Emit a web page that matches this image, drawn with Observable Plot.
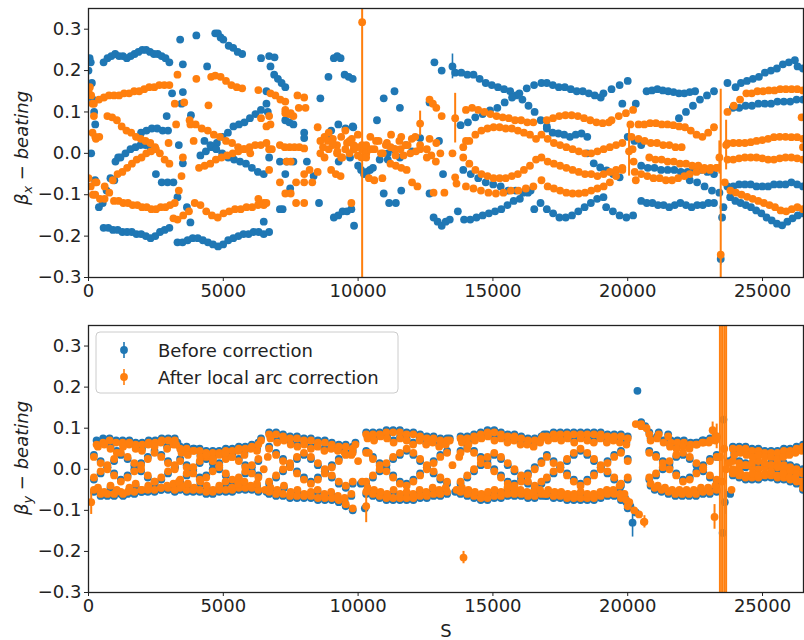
<!DOCTYPE html>
<html><head><meta charset="utf-8">
<script src="https://cdn.jsdelivr.net/npm/d3@7"></script>
<script src="https://cdn.jsdelivr.net/npm/@observablehq/plot@0.6"></script>
<style>body{margin:0;background:#fff;} svg{display:block;}</style>
</head><body><div id="chart"></div>
<script>
// ---- tick labels ----
const sTicks = [0, 5000, 10000, 15000, 20000, 25000];
const yTicks = [-0.3, -0.2, -0.1, 0, 0.1, 0.2, 0.3];
const seriesNames = ["Before correction", "After local arc correction"];

// ---- values (beta-beating in %), chains: [sStart, sEnd, values...] ----
const bxBeforeChains = [
  [0, 250, 20, 23, 22, 17, 13, 10, 7],
  [100, 1100, 0, -6.5, -13, -12, -9, -6, -6.5, -1],
  [560, 3000, 22, 23, 23.5, 24, 23.5, 23.5, 23, 23.5, 24, 24.5, 25, 25, 24.5, 24, 24, 23.5, 23, 22],
  [560, 3000, -18, -18, -18.5, -18.5, -19, -19, -19, -19.5, -19.5, -20, -20.5, -20, -19, -18.5, -18],
  [1000, 2300, -2, -1, 0, 1, 1.5, 2, 2, 1.5],
  [1950, 2950, 5, 5.5, 6, 6, 5.5, 5.5],
  [2500, 3150, -5, -7, -7, -7],
  [4700, 5000, 29, 29, 28, 27.5],
  [5200, 5700, 26, 25.5, 24.5, 24],
  [4150, 6600, -0.5, 0.5, 1.5, 2.5, 4, 5, 6.5, 7, 7.5, 8.5, 9.5, 10.5, 12],
  [4300, 6500, 3, 2, 1, 0, -1, -1.5, -2, -2.5, -3.5, -4.5, -5],
  [3300, 6500, -21.5, -21.5, -21, -20.5, -20.5, -21, -21.5, -22, -22.5, -22, -21, -20.5, -20, -19.5, -19.5, -19, -19, -19.5],
  [6750, 7300, 21, 19, 18, 17, 16],
  [7300, 7600, 8, 7.5, 7],
  [9100, 9350, 23, 23.5, 23],
  [9500, 9800, 19, 18.5, 18],
  [7100, 7600, -2, -2, -2],
  [9100, 9750, -15.5, -15, -14, -14, -13.5],
  [9000, 9800, 5.5, 7, 6, 6.5],
  [10000, 10550, -3, -4, -5, -4.5, -4, -3.5],
  [11150, 11400, -12, -12],
  [10800, 11100, -1.5, -1.5],
  [11100, 12000, 0, 1, -1, 2, 0.5],
  [12800, 13400, -15.5, -16.5, -17.5, -16.5, -16],
  [13600, 17000, 19.5, 19.5, 19, 19, 18, 17, 16.5, 16, 15.5, 15, 14, 13, 11.5, 10, 8, 6.5],
  [13800, 16800, 6.8, 7.5, 8.7, 9.5, 10.4, 11, 12.3, 13.5, 14.5, 15.7, 16.5, 17],
  [17000, 19000, 17, 16.5, 16, 16, 15.5, 15, 15, 14.5, 14, 13.5],
  [19100, 20000, 14.5, 15.5, 16.5, 17.5],
  [17000, 18500, 6, 5, 4.8, 4.5, 4, 4.5, 4.8, 4],
  [18500, 19700, 0, -2.4, -3.4, -4.1, -5, -5.8],
  [13700, 16000, -14, -16, -16, -15.5, -15, -14.5, -14, -13.5, -12.5, -11.5, -11],
  [16300, 19100, -9.5, -13.5, -12, -13.5, -14.5, -15.5, -15.5, -15, -14, -13, -12, -11, -10.6],
  [19200, 20200, -13, -14, -15, -15.5, -15],
  [20500, 23200, -11.5, -12, -12, -12.5, -12.5, -13, -12.5, -12, -12.5, -13, -12.5, -12.5, -12, -12],
  [13900, 16400, -4, -5, -6, -7, -7.5, -8, -9, -9, -9.5, -9],
  [20000, 20500, 4, 3, 2],
  [20500, 23200, -3, -3.5, -3.5, -4, -4, -4, -4.5, -4.5, -4, -4, -4.5, -5],
  [22300, 23400, -6.5, -7, -8, -9, -9.5],
  [23700, 26500, -8, -8, -7.5, -7.5, -7.5, -8, -8, -8, -7.5, -7.5, -7.5, -7, -7.5, -8],
  [23800, 26500, -10.6, -11.5, -12, -12.5, -13, -13.8, -14.5, -15.5, -16.2, -17, -17.4, -16.5, -15.7, -15, -14.5],
  [20700, 22500, 15, 15.2, 15.5, 15.2, 15, 14.8, 14.5, 14.5, 14.8, 15],
  [21900, 23200, 8.5, 10, 11.5, 13, 14, 15],
  [23700, 24000, 17, 16],
  [24200, 26200, 17, 17.5, 18, 18.5, 19.5, 20, 20.5, 21.5, 22, 22.5],
  [26300, 26500, 21, 20.5],
  [23900, 26500, 11, 11, 11.5, 11.5, 12, 12, 12, 12.5, 12.5, 12.5, 13, 13]
];
const bxBeforeDots = [
  [2900, 9], [3100, 14.5], [3450, 12], [3350, 2], [3300, -10.6], [3500, -2.4], [3500, 14.8], [3650, -13], [3780, -16.7], [3800, 9.2],
  [3400, 27.5], [3500, 21.5], [4000, 28.5], [4400, 21], [6400, 23], [6700, 23.5],
  [6500, -16.5], [6700, -19], [7200, -13.5], [6650, 10], [6900, 23.2], [6600, 15],
  [8000, 5], [8600, 13.3], [8900, 18.5], [6700, -1], [7300, -5], [7480, -8.5], [7100, -13.5],
  [8100, -2], [8350, -5.5], [8550, -12], [8000, 3.7], [8950, 3.7], [9850, -17.5], [9280, -2], [9700, -1], [9820, 6.3],
  [10700, 8], [10950, 13.3], [11350, 15], [11550, 11], [10950, -9.7], [11600, -9], [12300, 3.7], [12650, 12.3],
  [12830, 22], [13100, 20], [13000, 3], [12650, -9.7], [13150, -5], [19800, 12], [20300, 12],
  [23500, -15.5], [23550, -13]
];
const bxBeforeErr = [[13500, 21, 3], [23450, -25.5, 1.5]];

const bxAfterChains = [
  [0, 250, 15, 16, 14, 12, 9, 4],
  [0, 250, -6, -8, -10, -7],
  [200, 3000, 12, 13, 13.5, 14, 14, 14, 14.5, 14.5, 15, 15, 15.5, 16, 16, 16.5, 16.5, 16.5],
  [700, 3000, 9, 8.7, 8, 6.5, 5.5, 5, 4, 3.5, 3, 2.5, 1.5, 0, -1.5, -2.5],
  [900, 2500, -6.5, -5, -4.5, -3.5, -2.5, -1.5, -1, 0, 0.5, 1],
  [150, 400, 5, 3.5, 4],
  [250, 3200, -10, -11, -11, -9.5, -11.5, -11.5, -12, -12, -12.5, -12.5, -13, -13, -13.5, -13.5, -13, -13, -12.5, -12],
  [300, 600, -7, -8],
  [3750, 6000, 8, 7, 6, 5.5, 4.5, 4, 3, 2.5, 1.5, 1, 0],
  [4100, 6600, -3.5, -3, -2.5, -1.5, -1, -0.5, 0, 0.5, 1, 1.5, 2, 2, 2.5],
  [3300, 6500, -16, -15, -14, -12, -12.5, -14, -15, -15.5, -14.5, -14, -13.5, -13.5, -13, -13, -12.5, -12.5],
  [6750, 7300, 14.5, 14, 13, 12.5],
  [7300, 7600, 10.5, 9.5, 9],
  [7750, 8000, 14, 13.5],
  [7100, 8000, 2, 1.5, 1.5, 1.5, 1.5, 1.2],
  [7350, 7500, -2, -2],
  [7300, 7500, -9.7, -9.7],
  [7700, 8000, -7, -7],
  [7700, 8000, -12, -12],
  [8600, 10300, 3, 4, 5, 3.5, 2, 4, 5.5, 3, 1, 4.5, 2, 0],
  [8600, 10300, 0, -1, 1, 2, 0, -1, 1, 0, 2, -0.5, 1, 0.5],
  [8700, 10300, 1.5, 3, 2.5, 0.5, -1, 2.5, 3.5, 1.5, -1, 0],
  [9000, 9350, -4, -5, -5.5],
  [10300, 12300, 2, 4, 1, 3, 0, 2.5, 4.5, 1, 3, -0.5, 2, 3.5, 0.5, 2],
  [10300, 12300, -1, 1, 3, 0, 2, 1.5, -0.5, 1, 2, 0, 4, 1],
  [11400, 11800, -3, -3.5, -4],
  [12650, 12900, 13, 12, 11],
  [12550, 13050, 1, -0.5, -2, 0],
  [12800, 13200, -9.5, -9.5],
  [14000, 16500, 10.5, 11, 10.5, 10, 9.5, 9, 8.7, 8.5, 8, 8, 7.5, 7.5],
  [17000, 19300, 8, 8.5, 9, 9.2, 9.2, 9, 8.5, 8, 7.5, 7.3, 7.5],
  [19400, 20200, 8, 9, 9.7, 10.5],
  [13900, 16600, 1.5, 3, 4.5, 5.5, 6, 6.3, 6.3, 6, 6, 5.5, 5, 4.5, 3.5],
  [13900, 16600, -1, -2.5, -4, -5, -5.5, -6, -6, -6, -5.5, -5, -4, -3, -1.5],
  [14000, 16500, -8, -8.5, -9, -9.5, -9.7, -9.5, -9, -9, -8.5, -8],
  [16800, 19800, 4.5, 3.5, 2.5, 2, 1.5, 1, 0.5, 0, 0, 0.5, 1, 1.5, 2, 2.5],
  [16800, 19800, -1, -2, -2.5, -3, -3.5, -4, -4.5, -5, -5, -5.5, -5, -4.5, -4, -3.5],
  [16800, 19800, -6.5, -8, -8.5, -9, -9.5, -9.7, -9.7, -9.5, -9, -8.5, -8, -7, -5.5, -4],
  [20100, 20300, 7, 4, 1, -2, -4.5, -6.5],
  [20400, 23200, 7, 7, 7.3, 7.3, 7, 7, 6.8, 6.5, 6.3, 5.5, 4.5, 4, 5, 6.3],
  [20400, 22000, 3.5, 3, 2.5, 2.5, 2, 2, 1.5, 1.5],
  [20800, 23300, -1, -1.5, -1.5, -2, -2, -2.5, -2.5, -3, -3, -3.5, -3.5, -3.5],
  [20500, 22100, -5, -5.5, -6, -6, -6.5, -6.5, -6, -5.5],
  [22300, 23300, -5, -4.5, -4, -4, -3.5],
  [23700, 24400, 10, 11.5, 13, 14.5],
  [24600, 26500, 14.5, 15, 15, 15.2, 15.2, 15.5, 15.5, 15.5, 15.5, 15.2],
  [23700, 26500, 2.4, 2.5, 2.5, 2.5, 2.7, 3, 3.2, 3.5, 3.9, 4, 4, 3.9, 3.9, 3.5],
  [23700, 26500, -1.5, -1.5, -1.2, -1, -1, -1, -1.2, -1.5, -1.5, -1.2, -1, -1, -1.2, -1.5],
  [23600, 26500, -7, -9, -9.5, -10, -10.5, -11, -11.5, -12, -12.5, -13, -13.8, -14, -13.5, -13, -13.5]
];
const bxAfterDots = [
  [2970, 2.5], [3250, 7], [3500, -1], [3450, -5.5], [3780, 7], [3900, 3], [3350, -9], [3150, -15.7],
  [3300, 19], [4000, 18], [4550, 18.5], [4700, 18.8], [4900, 18.5], [5100, 17.5], [5300, 16.5], [5500, 16], [5700, 15.7], [6300, 15.3],
  [3200, 12], [3550, 12.3], [4450, 11.6], [6300, -11], [6500, -12], [6400, 8.5], [6600, 6.5],
  [8050, 11], [6700, 9], [6750, 7], [6700, 1], [6800, 1], [6700, -4], [7100, -7], [6600, -12], [8000, -5], [8300, -7], [8500, 6.3], [9750, -12],
  [10900, -6], [11200, -2.5], [12000, -7], [11600, 4], [12650, 3.5], [12900, 2.5], [13100, 9],
  [7300, 9.7], [7500, 9.7], [7800, 11], [8200, -4], [8500, -4.5], [10400, -6], [10600, -6.5], [12200, -8], [12550, -1],
  [13500, 0], [13600, -5.8], [13650, -7.3], [14000, 3], [26450, 8.7], [26500, 1.5]
];
const bxAfterErr = [[10150, 31.7, 70], [23450, -24.5, 40], [13600, 8.5, 6], [12300, 7.2, 3], [20050, 0.5, 6], [23650, 2, 6], [23400, -1, 4]];

const byBeforeChains = [
  [300, 3200, 7, 7.5, 7.5, 7, 7, 6.5, 6.5, 6.5, 7, 7, 7.5, 7.5, 7.5],
  [3400, 6300, 5.5, 5.5, 5, 5, 4.5, 4.5, 4.5, 5, 5, 5.5, 5.5, 6, 6.5],
  [6700, 9800, 9, 9, 8.5, 8, 8, 7.5, 7.5, 7, 7, 6.5, 6, 6, 5.5],
  [10300, 13300, 9, 9, 9, 9.5, 9.5, 9.5, 9, 9, 8.5, 8, 8, 7.5, 7.5],
  [13800, 16800, 8, 8, 8.5, 9, 9.5, 9.5, 9, 8.5, 8.5, 8, 7.5, 7.5, 8],
  [17000, 20000, 8.5, 9, 9, 9, 9, 9, 9, 9, 9, 8.5, 8.5, 8.5, 8],
  [20800, 21500, 9, 9, 8.5],
  [21600, 23300, 7, 7, 7, 6.5, 6.5, 7, 7.5, 8],
  [23900, 26500, 5.5, 5.5, 5.5, 5, 5, 4.5, 4.5, 4.5, 5, 5, 5.5, 6],
  [200, 3200, -5.5, -6.5, -6.5, -6.5, -6, -6, -6, -5.5, -5.5, -5.5, -5, -5, -5.5],
  [3400, 6300, -5, -5.5, -5.5, -5.5, -6, -6, -5.5, -5.5, -5.5, -5, -5, -5, -5.5],
  [6700, 9800, -6, -6.5, -6.5, -7, -7, -7, -7, -7.5, -7.5, -7.5, -8, -9, -10],
  [10300, 13300, -6, -6.5, -7, -7.5, -7.5, -7.5, -7.5, -7.5, -7, -7, -6.5, -6.5, -6],
  [13800, 16800, -6, -6.5, -7, -7.5, -7.5, -7, -7, -6.5, -6.5, -6.5, -7, -7, -6.5],
  [17000, 20000, -6.5, -7, -7, -7.5, -7.5, -7.5, -7.5, -7.5, -7, -6.5, -6.5, -7.5, -9.5],
  [19700, 20300, -5, -7, -9, -10.5],
  [21000, 23300, -5, -5.5, -6, -6.5, -6.5, -6.5, -6.5, -6, -6, -5.5],
  [23900, 26500, -1.5, -2, -2.5, -2.5, -2.5, -2, -2, -2.5, -2.5, -3, -3.5, -5],
  [200, 3200, 3.5, 2, 0.5, -1, -2.5, -1.5, 0, 1.5, 3, 4.5, 3.5, 2, 0.5],
  [200, 3200, -2.5, -1, 0.5, 2, 3.5, 2.5, 1, -0.5, -2, -3.5, -2.5, -1, 0.5],
  [3400, 6300, 2.5, 1, -0.5, -2, -1.5, 0, 1.5, 3, 3.5, 2.5, 1, -0.5, -1.5],
  [3400, 6300, -3, -1.5, 0, 1.5, 2.5, 1.5, 0, -1.5, -3, -2.5, -1, 0.5, 2],
  [6700, 9800, 5.5, 4, 2.5, 1, -0.5, -2, -3, -2, -0.5, 1, 2.5, 4, 4.5],
  [6700, 9800, -3.5, -2, -0.5, 1, 2.5, 3.5, 2.5, 1, -0.5, -2, -3.5, -4.5, -3.5],
  [10300, 13300, 4.5, 3, 1.5, 0, -1.5, -3, -3.5, -2.5, -1, 0.5, 2, 3.5, 4.5],
  [10300, 13300, -3.5, -2, -0.5, 1, 2.5, 3.5, 4.5, 3.5, 2, 0.5, -1, -2.5, -3.5],
  [13800, 16800, 4.5, 5.5, 4.5, 3, 1.5, 0, -1.5, -3, -3.5, -2.5, -1, 0.5, 2],
  [13800, 16800, -3.5, -2, -0.5, 1, 2.5, 3.5, 2.5, 1, -0.5, -2, -3.5, -4.5, -3.5],
  [17000, 20000, 3.5, 2, 0.5, -1, -2.5, -3.5, -2.5, -1, 0.5, 2, 3.5, 4.5, 2.5],
  [17000, 20000, -2.5, -1, 0.5, 2, 3.5, 4.5, 3.5, 2, 0.5, -1, -2.5, -4, -2.5],
  [20800, 23300, 4.5, 3.5, 2, 0.5, -1, -2.5, -2, -0.5, 1, 2.5, 3.5],
  [20800, 23300, -2.5, -1.5, 0, 1.5, 3, 3.5, 2.5, 1, -0.5, -2, -3],
  [23900, 26500, 2.5, 2, 1.5, 1, 0.5, 1, 1.5, 2, 1.5, 1, 0.5, 0],
  [23900, 26500, -0.5, 0, 0.5, 1, 1.5, 1, 0.5, 0, -0.5, -1, -1.5, -1.5],
  [350, 3150, 6, 6.5, 5.5, 4.5, 6, 7, 5.5, 5, 6.5, 6, 7, 5.5, 6.5],
  [350, 3150, -5, -6, -4.5, -5.5, -6.5, -5, -4, -5.5, -4.5, -3.5, -5, -4.5, -4],
  [3450, 6250, 4.5, 4, 5, 3.5, 4, 3, 4, 4.5, 3.5, 5, 4, 5.5, 5],
  [3450, 6250, -4.5, -4, -5, -3.5, -4.5, -5.5, -4.5, -3.5, -5, -4, -3.5, -4.5, -4],
  [6750, 9750, 8, 7, 7.5, 6.5, 6, 6.5, 5.5, 6, 5, 5.5, 5, 4.5, 4],
  [6750, 9750, -5, -5.5, -4.5, -6, -5.5, -6.5, -6, -5.5, -6.5, -6, -7, -7.5, -6.5],
  [10350, 13250, 8, 7.5, 8.5, 8, 7, 8, 7.5, 6.5, 7.5, 6.5, 7, 6, 6.5],
  [10350, 13250, -5, -5.5, -6, -6.5, -5.5, -6.5, -6, -6.5, -5.5, -6, -5, -5.5, -5],
  [13850, 16750, 7, 6.5, 7.5, 8, 8.5, 7.5, 8, 7, 7.5, 6.5, 6.5, 6, 7],
  [13850, 16750, -5, -5.5, -6, -6.5, -6, -5.5, -6, -5, -5.5, -5.5, -6, -6, -5.5],
  [17050, 19950, 7.5, 8, 7.5, 8, 7, 8, 7.5, 7, 8, 7, 7.5, 7, 6.5],
  [17050, 19950, -5.5, -6, -6, -6.5, -6.5, -6, -6.5, -6.5, -6, -5.5, -5.5, -6.5, -8],
  [20850, 23250, 7.5, 8, 7, 6, 5.5, 6, 5.5, 6.5, 7, 7, 7.5],
  [20850, 23250, -4, -4.5, -5, -5.5, -5.5, -5.5, -5.5, -5, -5, -4.5],
  [23950, 26450, 4, 4.5, 4, 3.5, 4, 3.5, 3.5, 3, 3.5, 4, 4.5, 5],
  [23950, 26450, -1, -1.5, -2, -1.5, -2, -1.5, -1, -2, -1.5, -2.5, -2.5, -3.5]
];
const byBeforeDots = [
  [20360, 19.1], [23550, 12.1], [23520, -15.5], [3300, 6.5], [3350, -3.5], [6400, 7.5], [6600, -5.5], [9900, 6.5],
  [10100, -3.5], [10250, -9.5], [13400, 7.5], [13600, -5.5], [16900, 8.5], [16950, -6.5], [20500, 11.5], [20650, 10.5],
  [23300, 3], [23750, 2], [23800, -6]
];
const byBeforeErr = [[20180, -13, 3.5], [23600, -8, 3]];

const byAfterChains = [
  [300, 3200, 6, 6.5, 7, 6.5, 6.5, 6, 6, 6, 6.5, 6.5, 7, 7, 7],
  [3400, 6300, 5, 5, 4.5, 4.5, 4, 4, 4, 4.5, 4.5, 5, 5, 5.5, 6],
  [6700, 9800, 8.5, 8.5, 8, 7.5, 7.5, 7, 7, 6.5, 6.5, 6, 5.5, 5.5, 5],
  [10300, 13300, 8.5, 8.5, 8.5, 9, 9, 9, 8.5, 8.5, 8, 7.5, 7.5, 7, 7],
  [13800, 16800, 7.5, 7.5, 8, 8.5, 9, 9, 8.5, 8, 8, 7.5, 7, 7, 7.5],
  [17000, 20000, 8, 8.5, 8.5, 8.5, 8.5, 8.5, 8.5, 8.5, 8.5, 8, 8, 8, 7.5],
  [20300, 20700, 11, 10.5, 10],
  [20800, 21500, 8.5, 8.5, 8],
  [21600, 23300, 6.5, 6.5, 6.5, 6, 6, 6.5, 7, 7.5],
  [23900, 26500, 5, 5, 5, 4.5, 4.5, 4, 4, 4, 4.5, 4.5, 5, 5.5],
  [200, 3200, -5, -6, -6, -6, -5.5, -5.5, -5.5, -5, -5, -5, -4.5, -4.5, -5],
  [3400, 6300, -4.5, -5, -5, -5, -5.5, -5.5, -5, -5, -5, -4.5, -4.5, -4.5, -5],
  [6700, 9800, -5.5, -6, -6, -6.5, -6.5, -6.5, -6.5, -7, -7, -7, -7.5, -8.5, -9.5],
  [10300, 13300, -5.5, -6, -6.5, -7, -7, -7, -7, -7, -6.5, -6.5, -6, -6, -5.5],
  [13800, 16800, -5.5, -6, -6.5, -7, -7, -6.5, -6.5, -6, -6, -6, -6.5, -6.5, -6],
  [17000, 20000, -6, -6.5, -6.5, -7, -7, -7, -7, -7, -6.5, -6, -6, -7, -9],
  [19700, 20600, -4, -6, -8, -10, -11, -12.8],
  [21000, 23300, -4.5, -5, -5.5, -6, -6, -6, -6, -5.5, -5.5, -5],
  [23900, 26500, -1, -1.5, -2, -2, -2, -1.5, -1.5, -2, -2, -2.5, -3, -4.5],
  [200, 3200, 3, 1.5, 0, -1.5, -3, -2, -0.5, 1, 2.5, 4, 3, 1.5, 0],
  [200, 3200, -2, -0.5, 1, 2.5, 4, 3, 1.5, 0, -1.5, -3, -2, -0.5, 1],
  [3400, 6300, 2, 0.5, -1, -2.5, -2, -0.5, 1, 2.5, 3, 2, 0.5, -1, -2],
  [3400, 6300, -2.5, -1, 0.5, 2, 3, 2, 0.5, -1, -2.5, -2, -0.5, 1, 2.5],
  [6700, 9800, 5, 3.5, 2, 0.5, -1, -2.5, -3.5, -2.5, -1, 0.5, 2, 3.5, 4],
  [6700, 9800, -3, -1.5, 0, 1.5, 3, 4, 3, 1.5, 0, -1.5, -3, -4, -3],
  [10300, 13300, 4, 2.5, 1, -0.5, -2, -3.5, -4, -3, -1.5, 0, 1.5, 3, 4],
  [10300, 13300, -3, -1.5, 0, 1.5, 3, 4, 5, 4, 2.5, 1, -0.5, -2, -3],
  [13800, 16800, 4, 5, 4, 2.5, 1, -0.5, -2, -3.5, -4, -3, -1.5, 0, 1.5],
  [13800, 16800, -3, -1.5, 0, 1.5, 3, 4, 3, 1.5, 0, -1.5, -3, -4, -3],
  [17000, 20000, 3, 1.5, 0, -1.5, -3, -4, -3, -1.5, 0, 1.5, 3, 4, 2],
  [17000, 20000, -2, -0.5, 1, 2.5, 4, 5, 4, 2.5, 1, -0.5, -2, -3.5, -2],
  [20800, 23300, 4, 3, 1.5, 0, -1.5, -3, -2.5, -1, 0.5, 2, 3],
  [20800, 23300, -2, -1, 0.5, 2, 3.5, 4, 3, 1.5, 0, -1.5, -2.5],
  [23900, 26500, 2, 1.5, 1, 0.5, 0, 0.5, 1, 1.5, 1, 0.5, 0, -0.5],
  [23900, 26500, 0, 0.5, 1, 1.5, 2, 1.5, 1, 0.5, 0, -0.5, -1, -1],
  [350, 3150, 5.5, 6, 5, 4, 5.5, 6.5, 5, 4.5, 6, 5.5, 6.5, 5, 6],
  [350, 3150, -4.5, -5.5, -4, -5, -6, -4.5, -3.5, -5, -4, -3, -4.5, -4, -3.5],
  [3450, 6250, 4, 3.5, 4.5, 3, 3.5, 2.5, 3.5, 4, 3, 4.5, 3.5, 5, 4.5],
  [3450, 6250, -4, -3.5, -4.5, -3, -4, -5, -4, -3, -4.5, -3.5, -3, -4, -3.5],
  [6750, 9750, 7.5, 6.5, 7, 6, 5.5, 6, 5, 5.5, 4.5, 5, 4.5, 4, 3.5],
  [6750, 9750, -4.5, -5, -4, -5.5, -5, -6, -5.5, -5, -6, -5.5, -6.5, -7, -6],
  [10350, 13250, 7.5, 7, 8, 7.5, 6.5, 7.5, 7, 6, 7, 6, 6.5, 5.5, 6],
  [10350, 13250, -4.5, -5, -5.5, -6, -5, -6, -5.5, -6, -5, -5.5, -4.5, -5, -4.5],
  [13850, 16750, 6.5, 6, 7, 7.5, 8, 7, 7.5, 6.5, 7, 6, 6, 5.5, 6.5],
  [13850, 16750, -4.5, -5, -5.5, -6, -5.5, -5, -5.5, -4.5, -5, -5, -5.5, -5.5, -5],
  [17050, 19950, 7, 7.5, 7, 7.5, 6.5, 7.5, 7, 6.5, 7.5, 6.5, 7, 6.5, 6],
  [17050, 19950, -5, -5.5, -5.5, -6, -6, -5.5, -6, -6, -5.5, -5, -5, -6, -7.5],
  [20850, 23250, 7, 7.5, 6.5, 5.5, 5, 5.5, 5, 6, 6.5, 6.5, 7],
  [20850, 23250, -3.5, -4, -4.5, -5, -5, -5, -5, -4.5, -4.5, -4],
  [23950, 26450, 3.5, 4, 3.5, 3, 3.5, 3, 3, 2.5, 3, 3.5, 4, 4.5],
  [23950, 26450, -0.5, -1, -1.5, -1, -1.5, -1, -0.5, -1.5, -1, -2, -2, -3]
];
const byAfterDots = [
  [3250, 6], [3350, -3], [6400, 7], [6500, 0], [6550, -5], [6650, 3], [9900, 6], [10000, 2], [10150, -3], [10400, 4],
  [13400, 7], [13500, 1], [13650, -5], [13750, 3], [16850, 8], [16950, -6], [20500, 11], [23750, 1.5], [23850, -5]
];
const byAfterErr = [
  [13910, -21.5, 1.5], [20620, -12.8, 1.5], [10300, -9, 4], [100, -8, 3], [23150, 9.5, 2], [23300, 8, 3], [23220, -11.6, 3],
  [23420, 3, 80], [23500, -3, 80], [23580, 5, 80], [23650, 0, 80]
];

// ---- build tables ----
function expand(chains, dots, errs) {
  const pts = [];
  for (const [s0, s1, ...vals] of chains) {
    const n = vals.length;
    vals.forEach((v, i) => pts.push({s: n > 1 ? s0 + (s1 - s0) * i / (n - 1) : s0, v: v / 100}));
  }
  for (const [s, v] of dots) pts.push({s, v: v / 100});
  for (const [s, v] of errs) pts.push({s, v: v / 100});
  return pts;
}
function errRows(errs) { return errs.map(([s, v, e]) => ({s, lo: (v - e) / 100, hi: (v + e) / 100})); }

const BLUE = "#1f77b4", ORANGE = "#ff7f0e";
const FONT = "DejaVu Sans";

function panel(before, after, bErr, aErr, height, marginTop, marginBottom) {
  return Plot.plot({
    width: 804, height, marginLeft: 88, marginRight: 1, marginTop, marginBottom,
    style: {fontFamily: FONT, fontSize: "18px", color: "#222", background: "white"},
    x: {domain: [0, 26520]},
    y: {domain: [-0.3, 0.35]},
    marks: [
      Plot.ruleX(errRows(bErr), {x: "s", y1: "lo", y2: "hi", stroke: BLUE, strokeWidth: 1.6, clip: true}),
      Plot.dot(before, {x: "s", y: "v", r: 3.9, fill: BLUE, clip: true}),
      Plot.ruleX(errRows(aErr), {x: "s", y1: "lo", y2: "hi", stroke: ORANGE, strokeWidth: 2, clip: true}),
      Plot.dot(after, {x: "s", y: "v", r: 3.9, fill: ORANGE, clip: true}),
      Plot.frame({stroke: "#222", strokeWidth: 1.3}),
      Plot.axisX({ticks: sTicks, tickFormat: d3.format("d"), tickSize: 4, tickPadding: 3, label: null}),
      Plot.axisY({ticks: yTicks, tickFormat: d3.format(".1f"), tickSize: 4, tickPadding: 3, label: null})
    ]
  });
}

const topSvg = panel(
  expand(bxBeforeChains, bxBeforeDots, bxBeforeErr),
  expand(bxAfterChains, bxAfterDots, bxAfterErr),
  bxBeforeErr, bxAfterErr, 308, 8, 31);
const bottomSvg = panel(
  expand(byBeforeChains, byBeforeDots, byBeforeErr),
  expand(byAfterChains, byAfterDots, byAfterErr),
  byBeforeErr, byAfterErr, 332, 17, 48);

const root = document.getElementById("chart");
root.appendChild(topSvg);
root.appendChild(bottomSvg);

function yLabel(svg, sub, cy) {
  const t = d3.select(svg).append("text")
    .attr("transform", `translate(28,${cy}) rotate(-90)`)
    .attr("text-anchor", "middle")
    .attr("font-family", FONT).attr("font-size", 18).attr("fill", "#222");
  t.append("tspan").attr("font-style", "italic").text("β");
  t.append("tspan").attr("font-style", "italic").attr("font-size", 13).attr("dy", 4).text(sub);
  t.append("tspan").attr("dy", -4).text(" − ");
  t.append("tspan").attr("font-style", "italic").text("beating");
}
yLabel(topSvg, "x", 148);
yLabel(bottomSvg, "y", 150);

d3.select(bottomSvg).append("text")
  .attr("x", 446).attr("y", 329).attr("text-anchor", "middle")
  .attr("font-family", FONT).attr("font-size", 18).attr("fill", "#222").text("S");

// legend
const lg = d3.select(bottomSvg).append("g").attr("text-anchor", "start");
lg.append("rect").attr("x", 96).attr("y", 24).attr("width", 302).attr("height", 61).attr("rx", 4)
  .attr("fill", "white").attr("fill-opacity", 0.8).attr("stroke", "#ccc");
[[BLUE, 42, seriesNames[0]], [ORANGE, 69, seriesNames[1]]].forEach(([c, y, name]) => {
  lg.append("line").attr("x1", 124).attr("x2", 124).attr("y1", y - 8).attr("y2", y + 8).attr("stroke", c).attr("stroke-width", 1.6);
  lg.append("circle").attr("cx", 124).attr("cy", y).attr("r", 3.9).attr("fill", c);
  lg.append("text").attr("x", 158).attr("y", y + 7).attr("text-anchor", "start")
    .attr("font-family", FONT).attr("font-size", 18).attr("fill", "#222").text(name);
});
</script>
</body></html>
